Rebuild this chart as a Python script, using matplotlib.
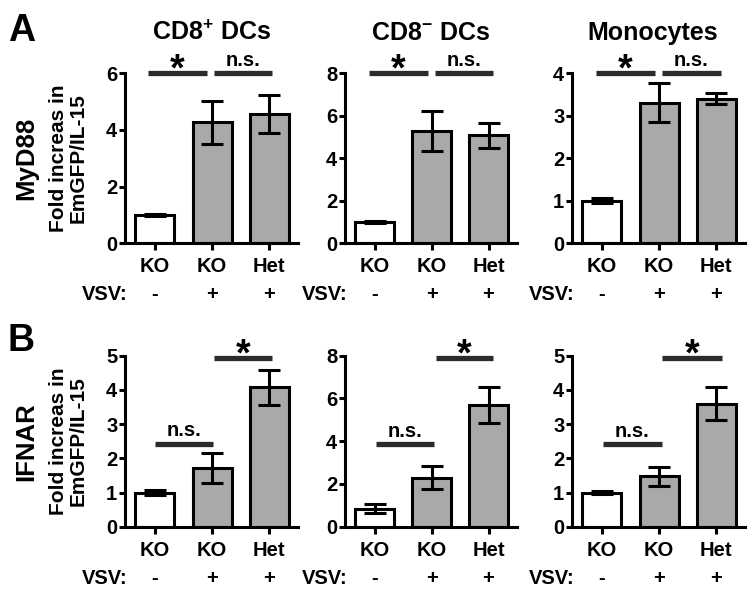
import matplotlib

matplotlib.use("Agg")
import matplotlib.pyplot as plt

plt.rcParams["font.family"] = ["Liberation Sans", "DejaVu Sans"]
plt.rcParams["font.weight"] = "bold"
plt.rcParams["mathtext.fontset"] = "custom"
plt.rcParams["mathtext.rm"] = "Liberation Sans:bold"
plt.rcParams["mathtext.bf"] = "Liberation Sans:bold"
plt.rcParams["mathtext.default"] = "bf"

groups = ["KO", "KO", "Het"]
vsv = ["-", "+", "+"]
titles = [r"CD8$^{+}$ DCs", r"CD8$^{-}$ DCs", "Monocytes"]
row_names = ["MyD88", "IFNAR"]
row_letters = ["A", "B"]

# MyD88 row
myd88_mean = [[1.0, 4.27, 4.56], [1.0, 5.28, 5.08], [1.0, 3.31, 3.40]]
myd88_err = [[0.05, 0.75, 0.67], [0.06, 0.96, 0.58], [0.06, 0.46, 0.13]]
myd88_ymax = [6, 8, 4]
myd88_yticks = [[0, 2, 4, 6], [0, 2, 4, 6, 8], [0, 1, 2, 3, 4]]

# IFNAR row
ifnar_mean = [[1.0, 1.71, 4.08], [0.84, 2.30, 5.70], [1.0, 1.48, 3.60]]
ifnar_err = [[0.06, 0.44, 0.51], [0.22, 0.52, 0.85], [0.05, 0.28, 0.48]]
ifnar_ymax = [5, 8, 5]
ifnar_yticks = [[0, 1, 2, 3, 4, 5], [0, 2, 4, 6, 8], [0, 1, 2, 3, 4, 5]]

# significance bars: (x0, x1, y, label)
myd88_sig = [
    [(-0.12, 0.91, 6.0, "*"), (1.03, 2.05, 6.0, "n.s.")],
    [(-0.10, 0.93, 8.0, "*"), (1.06, 2.08, 8.0, "n.s.")],
    [(-0.10, 0.93, 4.0, "*"), (1.05, 2.08, 4.0, "n.s.")],
]
ifnar_sig = [
    [(0.0, 1.02, 2.42, "n.s."), (1.04, 2.05, 4.92, "*")],
    [(0.02, 1.05, 3.86, "n.s."), (1.07, 2.08, 7.87, "*")],
    [(0.02, 1.05, 2.41, "n.s."), (1.05, 2.09, 4.93, "*")],
]

fill_colors = ["white", "#a9a9a9", "#a9a9a9"]

W, H = 754, 590
col_px = [(125, 298), (345, 517), (572, 745)]
row_px = [(73.3, 243.3), (355.7, 526.7)]
title_x = [0.5, 0.5, 0.465]
letter_top_px = [13, 323]

fig = plt.figure(figsize=(W / 100, H / 100), dpi=100)

rows = [
    (myd88_mean, myd88_err, myd88_ymax, myd88_yticks, myd88_sig),
    (ifnar_mean, ifnar_err, ifnar_ymax, ifnar_yticks, ifnar_sig),
]

x = [0, 1, 2]
for r, (means, errs, ymaxs, yticks, sigs) in enumerate(rows):
    top, bottom = row_px[r]
    for c in range(3):
        left, right = col_px[c]
        ax = fig.add_axes([left / W, 1 - bottom / H, (right - left) / W, (bottom - top) / H])
        ax.bar(x, means[c], width=0.68, color=fill_colors, edgecolor="black", linewidth=2.2, zorder=2)
        ax.errorbar(x, means[c], yerr=errs[c], fmt="none", ecolor="black", elinewidth=2.2,
                    capsize=8, capthick=2.2, zorder=3)
        ax.set_xlim(-0.52, 2.5)
        ax.set_ylim(0, ymaxs[c])
        ax.set_yticks(yticks[c])
        ax.spines[["top", "right"]].set_visible(False)
        ax.spines[["left", "bottom"]].set_linewidth(2.2)
        ax.tick_params(axis="y", length=4, width=2.2, pad=1.5, labelsize=14.5)
        ax.tick_params(axis="x", length=5, width=2.2, labelsize=14.5)
        ax.set_xticks(x)
        ax.set_xticklabels([])
        for i in x:
            ax.annotate(groups[i], (i, 0), xycoords=("data", "axes fraction"), xytext=(0, -20.8),
                        textcoords="offset points", ha="center", va="baseline", fontsize=14.5)
            ax.annotate(vsv[i], (i, 0), xycoords=("data", "axes fraction"), xytext=(0, -41),
                        textcoords="offset points", ha="center", va="baseline", fontsize=14.5)
        ax.annotate("VSV:", (0, 0), xycoords="axes fraction", xytext=(2, -41),
                    textcoords="offset points", ha="right", va="baseline", fontsize=14.5)
        for x0, x1, yy, label in sigs[c]:
            ax.plot([x0, x1], [yy, yy], color="#2b2b2b", linewidth=3.8, solid_capstyle="butt",
                    clip_on=False, zorder=4)
            if label == "*":
                ax.annotate(label, ((x0 + x1) / 2, yy), xytext=(0, 2), textcoords="offset points",
                            ha="center", va="center", fontsize=27, annotation_clip=False)
            else:
                ax.annotate(label, ((x0 + x1) / 2, yy), xytext=(0, 5.5), textcoords="offset points",
                            ha="center", va="baseline", fontsize=14.5, annotation_clip=False)
        if r == 0:
            ax.set_title(titles[c], fontsize=18, fontweight="bold", pad=24, x=title_x[c])
    mid = 1 - ((top + bottom) / 2) / H
    fig.text(68.5 / W, mid, "Fold increas in\nEmGFP/IL-15", rotation=90, ha="center", va="center",
             multialignment="center", fontsize=15, linespacing=1.05)
    fig.text(26 / W, mid, row_names[r], rotation=90, ha="center", va="center", fontsize=18.5)
    fig.text(8 / W, 1 - letter_top_px[r] / H, row_letters[r], fontsize=27, va="top")

fig.savefig("out.png", dpi=100)
